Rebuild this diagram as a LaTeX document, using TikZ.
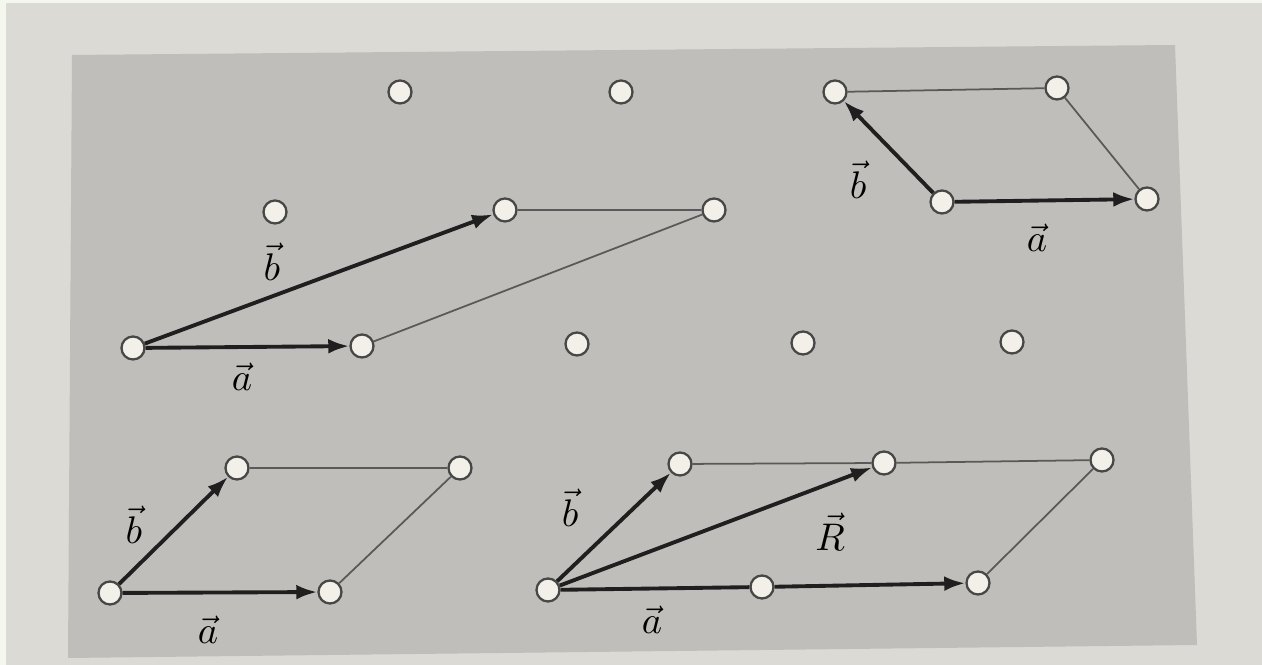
\documentclass[tikz,border=0pt]{standalone}
\usepackage{tikz}
\usetikzlibrary{arrows.meta,positioning}
\definecolor{plate}{RGB}{192,190,186}
\definecolor{paper}{RGB}{220,218,213}
\definecolor{fringe}{RGB}{244,247,237}
\definecolor{dotfill}{RGB}{242,240,232}

\begin{document}
\begin{tikzpicture}[
    site/.style={circle, draw=black!72, fill=dotfill, line width=0.65pt, minimum size=0.23cm, inner sep=0pt},
    vec/.style={line width=1.1pt, black!88, -{Latex[length=6pt,width=4.2pt]}},
    shaft/.style={line width=1.1pt, black!88},
    cell/.style={line width=0.5pt, black!65},
    lbl/.style={font=\fontsize{11}{13}\selectfont, inner sep=0pt},
    >=Latex
]
    \useasboundingbox (0,0) rectangle (12.62,6.65);

    % Page and plate
    \fill[paper] (0,0) rectangle (12.62,6.65);
    \fill[fringe] (0,0) rectangle (0.06,6.65);
    \fill[fringe] (0,6.62) rectangle (12.62,6.65);
    \fill[plate] (0.72,6.10) -- (11.75,6.20) -- (11.97,0.20) -- (0.68,0.07) -- cycle;

    % Lattice points, row by row from the top
    \node[site] (t1) at (4.00,5.73) {};
    \node[site] (t2) at (6.21,5.73) {};
    \node[site] (t3) at (8.35,5.73) {};
    \node[site] (t4) at (10.57,5.77) {};

    \node[site] (u1) at (2.75,4.53) {};
    \node[site] (u2) at (5.05,4.55) {};
    \node[site] (u3) at (7.14,4.55) {};
    \node[site] (u4) at (9.42,4.63) {};
    \node[site] (u5) at (11.47,4.66) {};

    \node[site] (v1) at (1.33,3.17) {};
    \node[site] (v2) at (3.62,3.19) {};
    \node[site] (v3) at (5.77,3.21) {};
    \node[site] (v4) at (8.03,3.22) {};
    \node[site] (v5) at (10.12,3.23) {};

    \node[site] (w1) at (2.37,1.97) {};
    \node[site] (w2) at (4.60,1.97) {};
    \node[site] (w3) at (6.80,2.01) {};
    \node[site] (w4) at (8.84,2.02) {};
    \node[site] (w5) at (11.02,2.05) {};

    \node[site] (z1) at (1.10,0.72) {};
    \node[site] (z2) at (3.30,0.73) {};
    \node[site] (z3) at (5.48,0.75) {};
    \node[site] (z4) at (7.62,0.78) {};
    \node[site] (z5) at (9.78,0.82) {};

    % Upper left cell
    \draw[vec] (v1) -- (v2);
    \draw[vec] (v1) -- (u2);
    \draw[cell] (u2) -- (u3);
    \draw[cell] (u3) -- (v2);
    \node[lbl] (lb1) at (2.72,4.03) {$\vec{b}$};
    \node[lbl] (la1) at (2.42,2.88) {$\vec{a}$};

    % Upper right cell
    \draw[vec] (u4) -- (u5);
    \draw[vec] (u4) -- (t3);
    \draw[cell] (t3) -- (t4);
    \draw[cell] (t4) -- (u5);
    \node[lbl] (lb2) at (8.58,4.85) {$\vec{b}$};
    \node[lbl] (la2) at (10.37,4.27) {$\vec{a}$};

    % Lower left cell
    \draw[vec] (z1) -- (z2);
    \draw[vec] (z1) -- (w1);
    \draw[cell] (w1) -- (w2);
    \draw[cell] (w2) -- (z2);
    \node[lbl] (lb3) at (1.34,1.40) {$\vec{b}$};
    \node[lbl] (la3) at (2.08,0.35) {$\vec{a}$};

    % Lower right cell with R
    \draw[shaft] (z3) -- (z4);
    \draw[vec] (z4) -- (z5);
    \draw[vec] (z3) -- (w3);
    \draw[vec] (z3) -- (w4);
    \draw[cell] (w3) -- (w4);
    \draw[cell] (w4) -- (w5);
    \draw[cell] (w5) -- (z5);
    \node[lbl] (lb4) at (5.70,1.57) {$\vec{b}$};
    \node[lbl] (lR) at (8.30,1.33) {$\vec{R}$};
    \node[lbl] (la4) at (6.52,0.45) {$\vec{a}$};
\end{tikzpicture}
\end{document}
